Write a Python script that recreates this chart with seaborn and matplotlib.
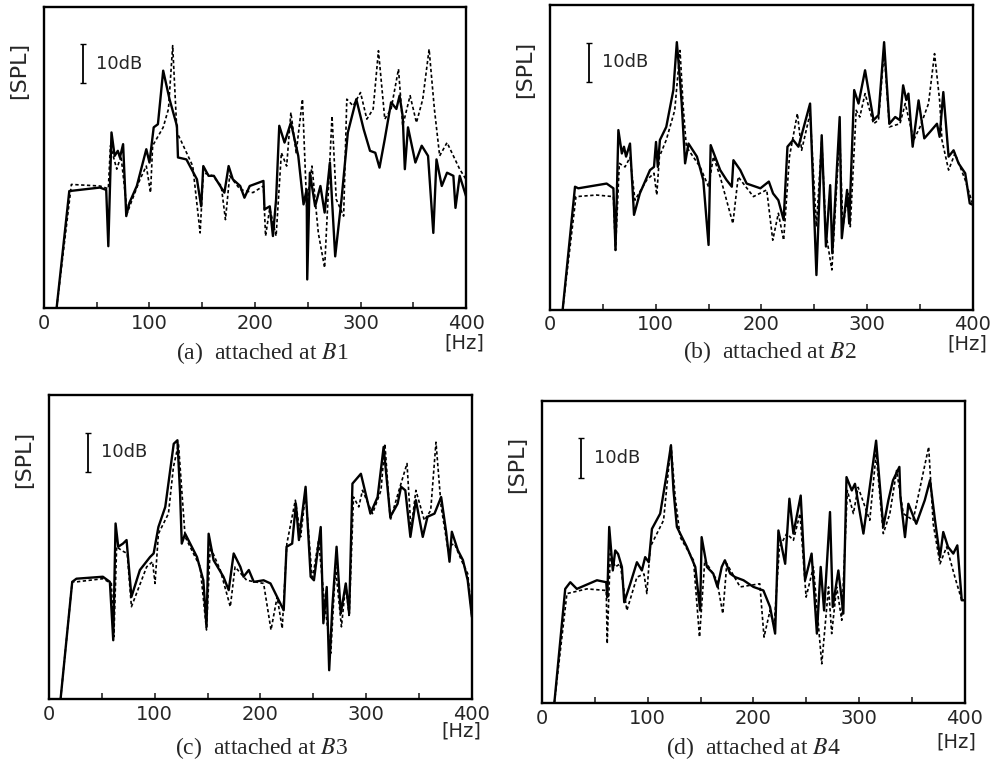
import matplotlib
matplotlib.use("Agg")
import matplotlib.pyplot as plt
import seaborn as sns
import pandas as pd

# ---- data (frequency in Hz, SPL in dB above axis floor) ----
a_solid_hz = [12, 24, 53, 59, 61, 64, 67, 70, 72, 75, 78, 81, 88, 97, 100, 104, 108, 113, 119, 126, 127, 135, 145, 149, 151, 156, 161, 167, 171, 175, 179, 186, 190, 195, 208, 209, 214, 217, 220, 223, 228, 234, 241, 246, 249, 249.5, 252, 257, 262, 266, 271, 276, 282, 288, 296, 303, 309, 314, 318, 323, 329, 334, 337, 340, 342, 345, 352, 358, 364, 369, 372, 377, 382, 388, 390, 394, 400]
a_solid_db = [0, 29.9, 30.8, 30.2, 15.8, 44.9, 38.9, 40.2, 38.5, 41.9, 23.5, 26.9, 31.2, 40.6, 37.2, 46.2, 47.0, 60.7, 53.4, 46.6, 38.5, 38.0, 32.9, 26.0, 36.3, 33.8, 33.8, 31.2, 29.5, 36.3, 32.9, 31.2, 28.2, 31.2, 32.5, 25.2, 26.0, 18.4, 27.8, 46.6, 42.3, 47.4, 38.9, 26.5, 30.3, 7.3, 34.6, 26.0, 31.2, 24.4, 37.2, 13.2, 27.8, 44.9, 53.4, 45.7, 40.2, 39.7, 35.9, 43.2, 52.6, 50.9, 54.3, 49.0, 35.5, 46.2, 37.2, 41.5, 38.9, 19.2, 38.0, 31.2, 34.6, 33.8, 25.6, 33.8, 28.6]
a_dash_hz = [12, 26, 53, 61, 63, 69, 73, 79, 91, 97, 101, 103, 113, 118, 122, 126, 130, 141, 148, 151, 160, 168, 172, 176, 186, 198, 208, 210, 214, 220, 225, 230, 234, 239, 245, 249, 254, 260, 266, 273, 277, 284, 287, 293, 300, 306, 312, 317, 323, 329, 336, 340, 347, 353, 359, 365, 370, 375, 382, 388, 394, 400]
a_dash_db = [0, 31.6, 31.2, 30.5, 41.5, 35.5, 38.9, 24.4, 32.9, 36.3, 29.5, 41.5, 46.2, 50.9, 67.1, 44.9, 42.7, 36.3, 19.2, 34.6, 33.8, 31.2, 22.6, 33.8, 30.3, 29.5, 31.2, 18.4, 25.5, 18.4, 39.7, 36.3, 50.0, 39.7, 53.4, 26.0, 36.3, 19.2, 10.3, 49.1, 27.8, 23.5, 53.4, 51.7, 55.1, 48.3, 50.9, 65.8, 48.3, 50.9, 61.1, 46.6, 54.3, 47.4, 53.4, 66.2, 50.9, 38.9, 42.3, 38.9, 35.5, 32.9]

b_solid_hz = [12, 23.7, 26.8, 53.6, 60, 62, 64.7, 68, 70, 72, 75.7, 79.5, 85, 94.6, 98.4, 100.3, 102, 104, 110, 116.7, 120, 123, 124.6, 127.8, 131, 139, 145, 150, 152, 161, 167, 172, 173.5, 180, 186, 199, 207, 211, 216, 221, 224.6, 230, 235, 246, 252, 257, 261, 265, 267, 274, 276, 281, 283, 287.7, 291.8, 298, 306, 310.7, 316, 321, 326.5, 331, 334, 337, 339, 343, 348.6, 354, 359.6, 366, 368.5, 372, 377, 381.7, 386.4, 392.7, 397, 400]
b_solid_db = [0, 31.1, 30.7, 31.9, 30.7, 15.1, 45.4, 39.5, 41.2, 38.7, 42.0, 24.0, 29.4, 35.3, 36.1, 42.4, 36.1, 42.9, 46.2, 55.5, 67.6, 58.0, 52.1, 37.0, 42.0, 38.7, 32.8, 16.4, 41.6, 35.3, 32.8, 31.1, 37.8, 35.3, 31.9, 30.7, 32.4, 29.4, 27.7, 22.7, 41.2, 42.9, 41.2, 52.1, 8.8, 44.1, 16.0, 31.5, 14.3, 48.7, 18.1, 30.3, 21.8, 55.5, 52.1, 60.5, 47.9, 49.2, 67.6, 47.0, 48.7, 47.9, 56.7, 53.0, 54.6, 41.2, 52.9, 43.3, 45.0, 47.0, 43.7, 55.0, 38.7, 40.3, 37.0, 34.5, 26.9, 26.5]
b_dash_hz = [12, 24.6, 44, 60, 62, 65.6, 71, 75.7, 80.4, 91.5, 98.4, 101, 103.5, 110, 118, 123, 126, 129, 142, 150, 154.6, 161, 173, 178, 192.4, 205, 210.7, 216, 221, 226.5, 234, 238, 246, 252, 257, 261, 266.6, 274, 277, 282, 284, 289.6, 293, 298, 306, 310.7, 316, 321, 331, 336, 344, 350, 358, 363.7, 368.5, 370.7, 377, 383, 388, 392.7, 400]
b_dash_db = [0, 28.6, 29.0, 28.6, 15.1, 37.0, 36.1, 38.5, 27.7, 32.8, 34.5, 29.0, 38.7, 42.9, 50.4, 65.5, 51.3, 41.2, 36.1, 31.1, 38.7, 33.6, 21.8, 33.6, 28.6, 30.3, 17.6, 24.4, 17.6, 38.7, 49.6, 40.3, 49.6, 21.0, 42.9, 19.3, 10.1, 44.5, 21.0, 29.4, 21.0, 50.4, 48.7, 54.6, 47.0, 47.9, 65.5, 46.2, 47.0, 52.1, 42.9, 46.2, 52.1, 64.7, 52.9, 42.9, 35.3, 39.5, 36.1, 32.8, 26.5]

c_solid_hz = [11, 22, 26, 51, 57.6, 60.8, 63, 65.5, 70, 73.4, 78, 86, 95.6, 99, 103.5, 110, 118, 121.5, 124, 125.6, 128.8, 140, 146, 149, 151, 155.7, 165, 170, 174.7, 181, 184, 189, 193.7, 203, 209.5, 222, 224.7, 230, 233.5, 236.4, 242.7, 247.5, 250.6, 257, 259.5, 262.7, 265, 268, 272, 276, 280.7, 283.9, 287, 295, 304, 310.8, 316.5, 322.8, 329.7, 333, 337, 341.8, 347, 353.5, 358, 364.6, 370.9, 375.6, 378.8, 381, 386.7, 391.5, 396, 400]
c_solid_db = [0, 29.7, 30.5, 31.0, 29.7, 14.9, 44.5, 38.6, 39.4, 40.3, 25.9, 32.7, 36.0, 36.9, 43.6, 48.7, 64.7, 65.6, 52.1, 39.4, 41.9, 36.0, 30.1, 18.3, 41.9, 35.2, 31.0, 27.6, 36.9, 33.5, 31.0, 32.7, 29.7, 30.1, 29.3, 22.5, 38.6, 39.4, 49.5, 40.3, 53.8, 31.0, 30.1, 43.6, 19.2, 28.4, 7.3, 23.4, 38.6, 21.7, 29.3, 21.7, 54.6, 57.1, 47.0, 51.2, 63.9, 46.2, 49.5, 53.8, 52.9, 41.1, 50.4, 41.1, 46.2, 47.0, 51.2, 42.4, 34.8, 42.4, 37.7, 35.2, 30.1, 20.8]
c_dash_hz = [11, 22, 26, 51, 59, 61.4, 64, 69, 74, 78, 92.4, 98, 100.3, 103.5, 113, 117.7, 122.5, 125.6, 128.8, 143, 149, 152.5, 162, 171.5, 176, 187, 203, 210, 215.8, 220.6, 225, 233, 238, 242.7, 249, 255, 260, 266.5, 271, 276.6, 280.7, 283.9, 288, 293, 296.5, 306, 314, 317.7, 322.8, 331, 338.6, 342.4, 347, 355, 361, 366, 370.9, 377, 383.5, 390, 396, 400]
c_dash_db = [0, 29.7, 29.7, 30.5, 29.3, 15.8, 38.6, 37.6, 36.9, 23.4, 33.5, 34.8, 29.3, 41.9, 47.0, 58.8, 64.7, 52.9, 41.1, 33.5, 17.5, 38.6, 32.7, 23.4, 33.5, 30.1, 29.3, 17.5, 25.9, 17.9, 39.4, 50.4, 41.1, 52.1, 30.1, 40.3, 25.9, 11.6, 33.5, 18.3, 29.3, 20.8, 51.2, 48.7, 52.9, 47.0, 52.9, 64.7, 45.3, 52.9, 59.7, 42.8, 52.9, 45.3, 47.8, 65.1, 48.7, 38.6, 39.4, 35.2, 31.8, 20.8]

d_solid_hz = [11.7, 22, 26.8, 33, 52, 60.8, 61.8, 63.6, 67, 69.3, 72, 75.6, 77.8, 83.5, 89.8, 94.5, 97.6, 101, 104, 111.8, 118, 122, 124.4, 127.6, 137, 145, 149.6, 151, 156, 162, 166, 170, 173, 178, 182.7, 190.6, 200, 209.4, 215.7, 220.5, 223.6, 230, 234, 237.8, 244.7, 248.8, 255, 260, 263.6, 266.8, 272.4, 275, 280.3, 285, 288, 293, 296, 304, 316, 322.8, 327.6, 332, 338, 339, 343.3, 346.5, 354, 362, 367, 371.7, 376.4, 379.5, 384, 389, 392.8, 397, 400]
d_solid_db = [0, 29.1, 30.8, 29.1, 31.3, 30.8, 27.0, 44.9, 33.8, 38.9, 38.0, 34.7, 25.7, 30.4, 35.9, 33.8, 37.2, 35.9, 44.4, 48.3, 58.5, 65.7, 54.2, 44.9, 39.8, 34.7, 23.6, 42.3, 34.7, 33.0, 29.6, 34.7, 36.4, 33.0, 32.1, 31.3, 29.6, 28.7, 24.5, 17.7, 44.0, 35.5, 52.1, 43.2, 52.9, 31.3, 38.1, 17.7, 34.7, 23.6, 48.7, 24.5, 33.8, 22.8, 57.6, 54.2, 55.9, 43.2, 66.9, 44.9, 51.7, 56.8, 60.2, 52.5, 42.3, 50.8, 45.7, 51.7, 56.8, 46.6, 37.2, 43.6, 39.8, 38.1, 40.2, 26.2, 26.2]
d_dash_hz = [11.7, 23.6, 42.5, 60.8, 61.7, 64.6, 69.3, 74, 80.3, 89.8, 96.5, 99.2, 102.4, 115, 122, 126, 130.7, 143.3, 149, 154, 165.4, 171, 174.8, 187.4, 206, 210, 215.7, 219.5, 224.6, 231.5, 237.8, 244, 249.8, 256.7, 264.6, 271, 274, 278.7, 283.5, 288.8, 294.5, 299, 310, 316, 322.8, 329, 335.4, 341.7, 351, 365.7, 370, 376.4, 382.7, 390.5, 397, 400]
d_dash_db = [0, 27.9, 29.1, 28.7, 15.1, 38.1, 34.7, 35.5, 23.6, 32.1, 32.9, 27.9, 39.8, 46.6, 66.1, 52.5, 42.3, 36.4, 16.8, 36.4, 31.3, 22.8, 35.5, 29.6, 30.4, 16.8, 23.6, 19.4, 39.8, 43.2, 41.5, 48.3, 27.0, 34.7, 10.0, 29.6, 17.7, 29.6, 21.1, 54.2, 48.3, 55.0, 46.6, 63.6, 43.2, 48.3, 59.3, 48.3, 46.6, 65.3, 45.7, 35.5, 39.8, 32.1, 26.2, 26.2]

panel_letters = ["a", "b", "c", "d"]
panel_points = ["1", "2", "3", "4"]
x_ticks = [0, 100, 200, 300, 400]
scale_bar_hz = 37
scale_bar_db = [57.5, 67.5]

series = {
    "a": (a_solid_hz, a_solid_db, a_dash_hz, a_dash_db),
    "b": (b_solid_hz, b_solid_db, b_dash_hz, b_dash_db),
    "c": (c_solid_hz, c_solid_db, c_dash_hz, c_dash_db),
    "d": (d_solid_hz, d_solid_db, d_dash_hz, d_dash_db),
}

sns.set_style("white")
plt.rcParams["font.family"] = ["DejaVu Sans"]
plt.rcParams["mathtext.fontset"] = "stix"

fig = plt.figure(figsize=(9.99, 7.69), dpi=100)
boxes = {
    "a": [0.044, 0.5995, 0.4225, 0.3915],
    "b": [0.5505, 0.597, 0.4234, 0.3966],
    "c": [0.049, 0.091, 0.4234, 0.395],
    "d": [0.5425, 0.0858, 0.4234, 0.3927],
}
caption_pos = {"a": (0.517, -0.150), "b": (0.52, -0.138), "c": (0.503, -0.161), "d": (0.50, -0.149)}
hz_pos = {"a": (0.995, -0.116), "b": (0.986, -0.111), "c": (0.976, -0.105), "d": (0.979, -0.129)}

for letter, point in zip(panel_letters, panel_points):
    ax = fig.add_axes(boxes[letter])
    s_hz, s_db, d_hz, d_db = series[letter]
    df_s = pd.DataFrame({"hz": s_hz, "db": s_db})
    df_d = pd.DataFrame({"hz": d_hz, "db": d_db})
    sns.lineplot(data=df_d, x="hz", y="db", ax=ax, sort=False, estimator=None,
                 color="black", linewidth=1.2, dashes=False, linestyle=(0, (2.0, 1.5)))
    sns.lineplot(data=df_s, x="hz", y="db", ax=ax, sort=False, estimator=None,
                 color="black", linewidth=1.7)

    ax.set_xlim(0, 400)
    ax.set_ylim(0, 77)
    ax.set_xlabel("")
    ax.set_ylabel("")
    ax.set_yticks([])
    ax.set_xticks(x_ticks)
    ax.set_xticks([50, 150, 250, 350], minor=True)
    ax.tick_params(axis="x", which="both", direction="in", length=4, width=1.2,
                   labelsize=14, pad=4, bottom=True)
    for sp in ax.spines.values():
        sp.set_linewidth(1.7)
        sp.set_color("black")

    # 10 dB scale bar
    ax.errorbar([scale_bar_hz], [sum(scale_bar_db) / 2],
                yerr=[(scale_bar_db[1] - scale_bar_db[0]) / 2],
                color="black", capsize=2.5, elinewidth=1.3, capthick=1.0, fmt="none")
    ax.text(49, sum(scale_bar_db) / 2, "10dB", fontsize=13, va="center", ha="left")

    ax.text(-0.058, 0.79, "[SPL]", transform=ax.transAxes, rotation=90,
            ha="center", va="center", fontsize=16)
    ax.text(*hz_pos[letter], "[Hz]", transform=ax.transAxes,
            ha="center", va="center", fontsize=14)
    ax.text(*caption_pos[letter], f"({letter})  attached at $B${point}",
            transform=ax.transAxes, ha="center", va="center", fontsize=17,
            family=["Liberation Serif", "DejaVu Serif"])

fig.savefig("out.png", dpi=100)
